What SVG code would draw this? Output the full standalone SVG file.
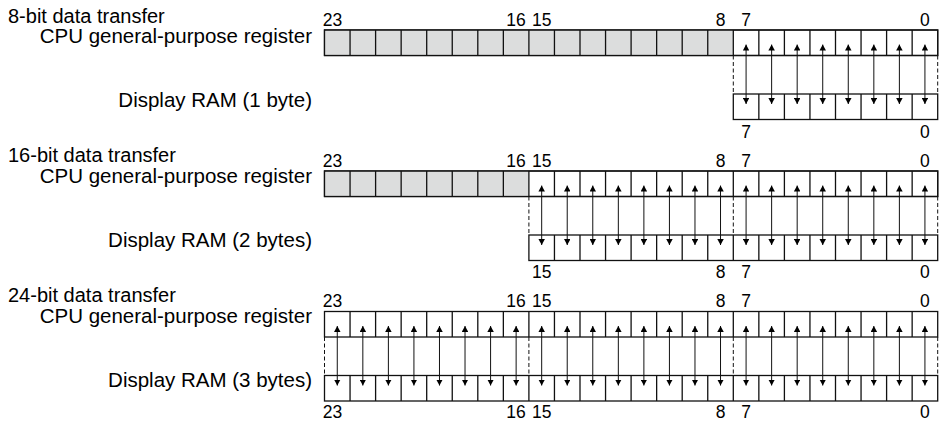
<svg xmlns="http://www.w3.org/2000/svg" width="942" height="422" viewBox="0 0 942 422">
  <style>
    .t { font-family: "Liberation Sans", Arial, Helvetica, sans-serif; font-size: 20px; fill: #000; }
    .end { text-anchor: end; font-size: 20.5px; }
    .n { font-family: "Liberation Sans", Arial, Helvetica, sans-serif; font-size: 17.5px; fill: #000; text-anchor: middle; }
    .box { fill: #fff; stroke: #111; stroke-width: 1.3; }
    .gray { fill: #dcdddd; stroke: none; }
    .div { fill: none; stroke: #111; stroke-width: 1.3; }
    .arr line { stroke: #111; stroke-width: 1; marker-start: url(#ah); marker-end: url(#ah); }
    .dash { stroke: #111; stroke-width: 1; stroke-dasharray: 4 2.5; fill: none; }
  </style>
  <defs>
    <marker id="ah" viewBox="0 0 6 6.5" refX="6" refY="3.25" markerWidth="6" markerHeight="6.5" markerUnits="userSpaceOnUse" orient="auto-start-reverse">
      <path d="M0 0L6 3.25L0 6.5z" fill="#000"/>
    </marker>
    <!-- cell dividers for 24-, 16- and 8-cell boxes, one cell = 25.55 px -->
    <path id="div24" d="M350.05 0v25.5M375.6 0v25.5M401.15 0v25.5M426.7 0v25.5M452.25 0v25.5M477.8 0v25.5M503.35 0v25.5M528.9 0v25.5M554.45 0v25.5M580 0v25.5M605.55 0v25.5M631.1 0v25.5M656.65 0v25.5M682.2 0v25.5M707.75 0v25.5M733.3 0v25.5M758.85 0v25.5M784.4 0v25.5M809.95 0v25.5M835.5 0v25.5M861.05 0v25.5M886.6 0v25.5M912.15 0v25.5"/>
    <path id="div16" d="M554.45 0v25.5M580 0v25.5M605.55 0v25.5M631.1 0v25.5M656.65 0v25.5M682.2 0v25.5M707.75 0v25.5M733.3 0v25.5M758.85 0v25.5M784.4 0v25.5M809.95 0v25.5M835.5 0v25.5M861.05 0v25.5M886.6 0v25.5M912.15 0v25.5"/>
    <path id="div8" d="M758.85 0v25.5M784.4 0v25.5M809.95 0v25.5M835.5 0v25.5M861.05 0v25.5M886.6 0v25.5M912.15 0v25.5"/>
  </defs>

  <!-- 8-bit transfer -->
  <text class="t" x="8" y="22.7">8-bit data transfer</text>
  <g id="cpu-reg-8" transform="translate(0,30)">
    <rect class="box" x="324.5" y="0" width="613.2" height="25.5"/>
    <rect class="gray" x="325.1" y="0.6" width="408.2" height="24.3"/>
    <use href="#div24" class="div"/>
    <rect x="324.5" y="0" width="613.2" height="25.5" fill="none" stroke="#111" stroke-width="1.3"/>
    <text class="t end" x="312" y="13.3">CPU general-purpose register</text>
  </g>
  <g id="ram-8" transform="translate(0,94)">
    <rect class="box" x="733.3" y="0" width="204.4" height="25.5"/>
    <use href="#div8" class="div"/>
    <text class="t end" x="312" y="13.3">Display RAM (1 byte)</text>
  </g>
  <g id="bits-8">
    <text class="n" x="332.5" y="26">23</text>
    <text class="n" x="516.1" y="26">16</text>
    <text class="n" x="541.7" y="26">15</text>
    <text class="n" x="720.5" y="26">8</text>
    <text class="n" x="746.1" y="26">7</text>
    <text class="n" x="924.9" y="26">0</text>
    <text class="n" x="746.1" y="138.3">7</text>
    <text class="n" x="924.9" y="138.3">0</text>
  </g>

  <!-- 16-bit transfer -->
  <text class="t" x="8" y="161.7">16-bit data transfer</text>
  <g id="cpu-reg-16" transform="translate(0,171)">
    <rect class="box" x="324.5" y="0" width="613.2" height="25.5"/>
    <rect class="gray" x="325.1" y="0.6" width="203.8" height="24.3"/>
    <use href="#div24" class="div"/>
    <rect x="324.5" y="0" width="613.2" height="25.5" fill="none" stroke="#111" stroke-width="1.3"/>
    <text class="t end" x="312" y="12.3">CPU general-purpose register</text>
  </g>
  <g id="ram-16" transform="translate(0,235)">
    <rect class="box" x="528.9" y="0" width="408.8" height="25.5"/>
    <use href="#div16" class="div"/>
    <text class="t end" x="312" y="12.3">Display RAM (2 bytes)</text>
  </g>
  <g id="bits-16">
    <text class="n" x="332.5" y="166.7">23</text>
    <text class="n" x="516.1" y="166.7">16</text>
    <text class="n" x="541.7" y="166.7">15</text>
    <text class="n" x="720.5" y="166.7">8</text>
    <text class="n" x="746.1" y="166.7">7</text>
    <text class="n" x="924.9" y="166.7">0</text>
    <text class="n" x="541.7" y="278.3">15</text>
    <text class="n" x="720.5" y="278.3">8</text>
    <text class="n" x="746.1" y="278.3">7</text>
    <text class="n" x="924.9" y="278.3">0</text>
  </g>

  <!-- 24-bit transfer -->
  <text class="t" x="8" y="301.7">24-bit data transfer</text>
  <g id="cpu-reg-24" transform="translate(0,311.5)">
    <rect class="box" x="324.5" y="0" width="613.2" height="25.5"/>
    <use href="#div24" class="div"/>
    <text class="t end" x="312" y="11.8">CPU general-purpose register</text>
  </g>
  <g id="ram-24" transform="translate(0,375.5)">
    <rect class="box" x="324.5" y="0" width="613.2" height="25.5"/>
    <use href="#div24" class="div"/>
    <text class="t end" x="312" y="11.8">Display RAM (3 bytes)</text>
  </g>
  <g id="bits-24">
    <text class="n" x="332.5" y="306.7">23</text>
    <text class="n" x="516.1" y="306.7">16</text>
    <text class="n" x="541.7" y="306.7">15</text>
    <text class="n" x="720.5" y="306.7">8</text>
    <text class="n" x="746.1" y="306.7">7</text>
    <text class="n" x="924.9" y="306.7">0</text>
    <text class="n" x="332.5" y="418.3">23</text>
    <text class="n" x="516.1" y="418.3">16</text>
    <text class="n" x="541.7" y="418.3">15</text>
    <text class="n" x="720.5" y="418.3">8</text>
    <text class="n" x="746.1" y="418.3">7</text>
    <text class="n" x="924.9" y="418.3">0</text>
  </g>

  <!-- connectors: two-way bit arrows and dashed byte boundaries -->
  <g id="connectors">
    <g class="arr">
      <line x1="746.08" y1="44.5" x2="746.08" y2="104"/>
      <line x1="771.63" y1="44.5" x2="771.63" y2="104"/>
      <line x1="797.18" y1="44.5" x2="797.18" y2="104"/>
      <line x1="822.73" y1="44.5" x2="822.73" y2="104"/>
      <line x1="848.28" y1="44.5" x2="848.28" y2="104"/>
      <line x1="873.83" y1="44.5" x2="873.83" y2="104"/>
      <line x1="899.38" y1="44.5" x2="899.38" y2="104"/>
      <line x1="924.93" y1="44.5" x2="924.93" y2="104"/>

      <line x1="541.68" y1="185.5" x2="541.68" y2="245"/>
      <line x1="567.23" y1="185.5" x2="567.23" y2="245"/>
      <line x1="592.78" y1="185.5" x2="592.78" y2="245"/>
      <line x1="618.33" y1="185.5" x2="618.33" y2="245"/>
      <line x1="643.88" y1="185.5" x2="643.88" y2="245"/>
      <line x1="669.43" y1="185.5" x2="669.43" y2="245"/>
      <line x1="694.98" y1="185.5" x2="694.98" y2="245"/>
      <line x1="720.53" y1="185.5" x2="720.53" y2="245"/>
      <line x1="746.08" y1="185.5" x2="746.08" y2="245"/>
      <line x1="771.63" y1="185.5" x2="771.63" y2="245"/>
      <line x1="797.18" y1="185.5" x2="797.18" y2="245"/>
      <line x1="822.73" y1="185.5" x2="822.73" y2="245"/>
      <line x1="848.28" y1="185.5" x2="848.28" y2="245"/>
      <line x1="873.83" y1="185.5" x2="873.83" y2="245"/>
      <line x1="899.38" y1="185.5" x2="899.38" y2="245"/>
      <line x1="924.93" y1="185.5" x2="924.93" y2="245"/>

      <line x1="337.28" y1="326" x2="337.28" y2="385.5"/>
      <line x1="362.83" y1="326" x2="362.83" y2="385.5"/>
      <line x1="388.38" y1="326" x2="388.38" y2="385.5"/>
      <line x1="413.93" y1="326" x2="413.93" y2="385.5"/>
      <line x1="439.48" y1="326" x2="439.48" y2="385.5"/>
      <line x1="465.03" y1="326" x2="465.03" y2="385.5"/>
      <line x1="490.58" y1="326" x2="490.58" y2="385.5"/>
      <line x1="516.13" y1="326" x2="516.13" y2="385.5"/>
      <line x1="541.68" y1="326" x2="541.68" y2="385.5"/>
      <line x1="567.23" y1="326" x2="567.23" y2="385.5"/>
      <line x1="592.78" y1="326" x2="592.78" y2="385.5"/>
      <line x1="618.33" y1="326" x2="618.33" y2="385.5"/>
      <line x1="643.88" y1="326" x2="643.88" y2="385.5"/>
      <line x1="669.43" y1="326" x2="669.43" y2="385.5"/>
      <line x1="694.98" y1="326" x2="694.98" y2="385.5"/>
      <line x1="720.53" y1="326" x2="720.53" y2="385.5"/>
      <line x1="746.08" y1="326" x2="746.08" y2="385.5"/>
      <line x1="771.63" y1="326" x2="771.63" y2="385.5"/>
      <line x1="797.18" y1="326" x2="797.18" y2="385.5"/>
      <line x1="822.73" y1="326" x2="822.73" y2="385.5"/>
      <line x1="848.28" y1="326" x2="848.28" y2="385.5"/>
      <line x1="873.83" y1="326" x2="873.83" y2="385.5"/>
      <line x1="899.38" y1="326" x2="899.38" y2="385.5"/>
      <line x1="924.93" y1="326" x2="924.93" y2="385.5"/>
    </g>
    <path class="dash" d="M733.3 55.5V94M937.7 55.5V94"/>
    <path class="dash" d="M528.9 196.5V235M733.3 196.5V235M937.7 196.5V235"/>
    <path class="dash" d="M324.5 337V375.5M528.9 337V375.5M733.3 337V375.5M937.7 337V375.5"/>
  </g>
</svg>
